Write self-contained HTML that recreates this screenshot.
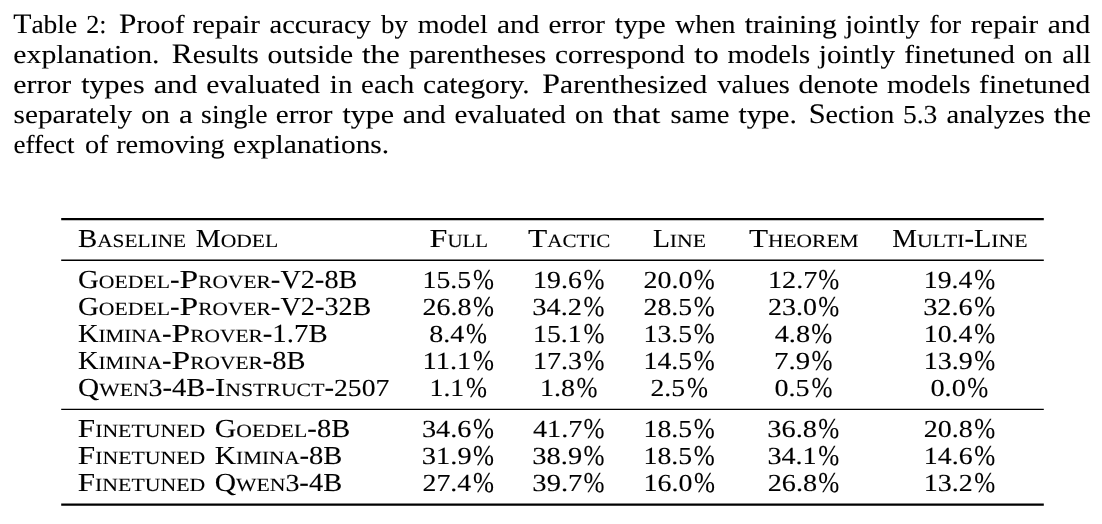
<!DOCTYPE html>
<html lang="en">
<head>
<meta charset="utf-8">
<title>Table 2: Proof repair accuracy</title>
<style>
html,body{margin:0;padding:0;background:#fff;}
body{width:1102px;height:524px;overflow:hidden;}
svg{display:block;will-change:transform;filter:grayscale(1);font-family:"Liberation Serif","DejaVu Serif",serif;text-rendering:geometricPrecision;}
text{fill:#000;stroke:#000;stroke-width:0;white-space:pre;}
text.c{font-size:26.0px;stroke-width:0.1;}
tspan.C{font-size:28.2px;}
tspan.b{font-size:26.0px;stroke-width:0.1;}
tspan.d{font-size:24.5px;stroke-width:0.1;}
tspan.s{font-size:18.7px;stroke-width:0.1;text-transform:uppercase;}
tspan.p{font-size:28.75px;stroke-width:0.1;}
</style>
</head>
<body>
<svg width="1102" height="524" viewBox="0 0 1102 524">
<rect x="0" y="0" width="1102" height="524" fill="#fff"/>
<rect x="61.2" y="218" width="982.6" height="2.25" fill="#000"/>
<rect x="61.2" y="259.5" width="982.6" height="1.5" fill="#000"/>
<rect x="61.2" y="408.75" width="982.6" height="1.25" fill="#000"/>
<rect x="61.2" y="503.5" width="982.6" height="2.25" fill="#000"/>
<text class="c" y="33"><tspan x="13.21" textLength="63.99" lengthAdjust="spacingAndGlyphs"><tspan class="C">T</tspan>able</tspan> <tspan x="86.36" textLength="20.25" lengthAdjust="spacingAndGlyphs">2:</tspan> <tspan x="119.1" textLength="65.4" lengthAdjust="spacingAndGlyphs"><tspan class="C">P</tspan>roof</tspan> <tspan x="192.42" textLength="67.59" lengthAdjust="spacingAndGlyphs">repair</tspan> <tspan x="269.5" textLength="101.36" lengthAdjust="spacingAndGlyphs">accuracy</tspan> <tspan x="381" textLength="26.85" lengthAdjust="spacingAndGlyphs">by</tspan> <tspan x="417.66" textLength="70.15" lengthAdjust="spacingAndGlyphs">model</tspan> <tspan x="496.97" textLength="42.39" lengthAdjust="spacingAndGlyphs">and</tspan> <tspan x="548.62" textLength="56.39" lengthAdjust="spacingAndGlyphs">error</tspan> <tspan x="614.71" textLength="51.07" lengthAdjust="spacingAndGlyphs">type</tspan> <tspan x="675.22" textLength="60.2" lengthAdjust="spacingAndGlyphs">when</tspan> <tspan x="744.71" textLength="92.1" lengthAdjust="spacingAndGlyphs">training</tspan> <tspan x="845.32" textLength="74.54" lengthAdjust="spacingAndGlyphs">jointly</tspan> <tspan x="929.42" textLength="31.57" lengthAdjust="spacingAndGlyphs">for</tspan> <tspan x="970.67" textLength="67.59" lengthAdjust="spacingAndGlyphs">repair</tspan> <tspan x="1047.71" textLength="42.65" lengthAdjust="spacingAndGlyphs">and</tspan></text>
<text class="c" y="63"><tspan x="13.34" textLength="146.12" lengthAdjust="spacingAndGlyphs">explanation.</tspan> <tspan x="171.84" textLength="86.95" lengthAdjust="spacingAndGlyphs"><tspan class="C">R</tspan>esults</tspan> <tspan x="267.62" textLength="85.4" lengthAdjust="spacingAndGlyphs">outside</tspan> <tspan x="361.95" textLength="37.88" lengthAdjust="spacingAndGlyphs">the</tspan> <tspan x="409.03" textLength="137.29" lengthAdjust="spacingAndGlyphs">parentheses</tspan> <tspan x="555.14" textLength="129.72" lengthAdjust="spacingAndGlyphs">correspond</tspan> <tspan x="694.19" textLength="24.51" lengthAdjust="spacingAndGlyphs">to</tspan> <tspan x="727.4" textLength="82.63" lengthAdjust="spacingAndGlyphs">models</tspan> <tspan x="818.84" textLength="76.27" lengthAdjust="spacingAndGlyphs">jointly</tspan> <tspan x="904.35" textLength="110.51" lengthAdjust="spacingAndGlyphs">finetuned</tspan> <tspan x="1023.9" textLength="28.78" lengthAdjust="spacingAndGlyphs">on</tspan> <tspan x="1062.25" textLength="28.58" lengthAdjust="spacingAndGlyphs">all</tspan></text>
<text class="c" y="93"><tspan x="13.34" textLength="57.93" lengthAdjust="spacingAndGlyphs">error</tspan> <tspan x="81.21" textLength="63.38" lengthAdjust="spacingAndGlyphs">types</tspan> <tspan x="153.69" textLength="43.68" lengthAdjust="spacingAndGlyphs">and</tspan> <tspan x="206.34" textLength="113.77" lengthAdjust="spacingAndGlyphs">evaluated</tspan> <tspan x="329.89" textLength="22.55" lengthAdjust="spacingAndGlyphs">in</tspan> <tspan x="361.12" textLength="53.01" lengthAdjust="spacingAndGlyphs">each</tspan> <tspan x="423.13" textLength="106.55" lengthAdjust="spacingAndGlyphs">category.</tspan> <tspan x="542.33" textLength="165.03" lengthAdjust="spacingAndGlyphs"><tspan class="C">P</tspan>arenthesized</tspan> <tspan x="717.25" textLength="72.53" lengthAdjust="spacingAndGlyphs">values</tspan> <tspan x="798.42" textLength="79.87" lengthAdjust="spacingAndGlyphs">denote</tspan> <tspan x="887.14" textLength="83.4" lengthAdjust="spacingAndGlyphs">models</tspan> <tspan x="979.09" textLength="111.27" lengthAdjust="spacingAndGlyphs">finetuned</tspan></text>
<text class="c" y="123"><tspan x="13.55" textLength="118.56" lengthAdjust="spacingAndGlyphs">separately</tspan> <tspan x="141.15" textLength="28.78" lengthAdjust="spacingAndGlyphs">on</tspan> <tspan x="178.91" textLength="13.76" lengthAdjust="spacingAndGlyphs">a</tspan> <tspan x="201.11" textLength="66.35" lengthAdjust="spacingAndGlyphs">single</tspan> <tspan x="275.86" textLength="56.65" lengthAdjust="spacingAndGlyphs">error</tspan> <tspan x="342.46" textLength="51.58" lengthAdjust="spacingAndGlyphs">type</tspan> <tspan x="402.71" textLength="42.91" lengthAdjust="spacingAndGlyphs">and</tspan> <tspan x="454.62" textLength="111.24" lengthAdjust="spacingAndGlyphs">evaluated</tspan> <tspan x="574.91" textLength="28.52" lengthAdjust="spacingAndGlyphs">on</tspan> <tspan x="612.69" textLength="47.75" lengthAdjust="spacingAndGlyphs">that</tspan> <tspan x="670.57" textLength="58.92" lengthAdjust="spacingAndGlyphs">same</tspan> <tspan x="738.46" textLength="58.5" lengthAdjust="spacingAndGlyphs">type.</tspan> <tspan x="808.71" textLength="85.46" lengthAdjust="spacingAndGlyphs"><tspan class="C">S</tspan>ection</tspan> <tspan x="902.9" textLength="34.43" lengthAdjust="spacingAndGlyphs">5.3</tspan> <tspan x="946.5" textLength="98.29" lengthAdjust="spacingAndGlyphs">analyzes</tspan> <tspan x="1053.7" textLength="37.36" lengthAdjust="spacingAndGlyphs">the</tspan></text>
<text class="c" y="153"><tspan x="13.44" textLength="61.22" lengthAdjust="spacingAndGlyphs">effect</tspan> <tspan x="84.92" textLength="23.58" lengthAdjust="spacingAndGlyphs">of</tspan> <tspan x="116.18" textLength="108.61" lengthAdjust="spacingAndGlyphs">removing</tspan> <tspan x="233.1" textLength="156.09" lengthAdjust="spacingAndGlyphs">explanations.</tspan></text>
<text><tspan class="b" x="77.91" y="247" textLength="19.26" lengthAdjust="spacingAndGlyphs">B</tspan><tspan class="s" x="97.17" y="247" textLength="88.99" lengthAdjust="spacingAndGlyphs">aseline</tspan> <tspan class="b" x="195.73" y="247" textLength="24.93" lengthAdjust="spacingAndGlyphs">M</tspan><tspan class="s" x="220.65" y="247" textLength="57.64" lengthAdjust="spacingAndGlyphs">odel</tspan></text>
<text><tspan class="b" x="429.57" y="247" textLength="17.86" lengthAdjust="spacingAndGlyphs">F</tspan><tspan class="s" x="447.43" y="247" textLength="40.57" lengthAdjust="spacingAndGlyphs">ull</tspan></text>
<text><tspan class="b" x="527.91" y="247" textLength="19.25" lengthAdjust="spacingAndGlyphs">T</tspan><tspan class="s" x="547.17" y="247" textLength="63.25" lengthAdjust="spacingAndGlyphs">actic</tspan></text>
<text><tspan class="b" x="652.94" y="247" textLength="16.92" lengthAdjust="spacingAndGlyphs">L</tspan><tspan class="s" x="669.86" y="247" textLength="36.22" lengthAdjust="spacingAndGlyphs">ine</tspan></text>
<text><tspan class="b" x="748.91" y="247" textLength="19.07" lengthAdjust="spacingAndGlyphs">T</tspan><tspan class="s" x="767.98" y="247" textLength="90.65" lengthAdjust="spacingAndGlyphs">heorem</tspan></text>
<text><tspan class="b" x="892.19" y="247" textLength="24.73" lengthAdjust="spacingAndGlyphs">M</tspan><tspan class="s" x="916.92" y="247" textLength="47.52" lengthAdjust="spacingAndGlyphs">ulti</tspan><tspan class="b" x="964.44" y="247" textLength="9.56" lengthAdjust="spacingAndGlyphs">-</tspan><tspan class="b" x="974" y="247" textLength="17.24" lengthAdjust="spacingAndGlyphs">L</tspan><tspan class="s" x="991.24" y="247" textLength="36.34" lengthAdjust="spacingAndGlyphs">ine</tspan></text>
<text><tspan class="b" x="78.03" y="288" textLength="20.84" lengthAdjust="spacingAndGlyphs">G</tspan><tspan class="s" x="98.87" y="288" textLength="71.09" lengthAdjust="spacingAndGlyphs">oedel</tspan><tspan class="b" x="169.96" y="288" textLength="9.56" lengthAdjust="spacingAndGlyphs">-</tspan><tspan class="b" x="179.52" y="288" textLength="18.71" lengthAdjust="spacingAndGlyphs">P</tspan><tspan class="s" x="198.23" y="288" textLength="72.63" lengthAdjust="spacingAndGlyphs">rover</tspan><tspan class="b" x="270.85" y="288" textLength="9.56" lengthAdjust="spacingAndGlyphs">-</tspan><tspan class="b" x="280.41" y="288" textLength="34.48" lengthAdjust="spacingAndGlyphs">V2</tspan><tspan class="b" x="314.89" y="288" textLength="9.56" lengthAdjust="spacingAndGlyphs">-</tspan><tspan class="b" x="324.45" y="288" textLength="32.95" lengthAdjust="spacingAndGlyphs">8B</tspan></text>
<text><tspan class="d" x="422.56" y="288" textLength="48.52" lengthAdjust="spacingAndGlyphs">15.5</tspan><tspan class="p" x="472.89" y="289" textLength="20.97" lengthAdjust="spacingAndGlyphs">%</tspan></text>
<text><tspan class="d" x="533.05" y="288" textLength="48.78" lengthAdjust="spacingAndGlyphs">19.6</tspan><tspan class="p" x="583.39" y="289" textLength="20.97" lengthAdjust="spacingAndGlyphs">%</tspan></text>
<text><tspan class="d" x="643.52" y="288" textLength="49.05" lengthAdjust="spacingAndGlyphs">20.0</tspan><tspan class="p" x="693.64" y="289" textLength="20.97" lengthAdjust="spacingAndGlyphs">%</tspan></text>
<text><tspan class="d" x="768.02" y="288" textLength="49.29" lengthAdjust="spacingAndGlyphs">12.7</tspan><tspan class="p" x="818.14" y="289" textLength="20.97" lengthAdjust="spacingAndGlyphs">%</tspan></text>
<text><tspan class="d" x="923.81" y="288" textLength="48.63" lengthAdjust="spacingAndGlyphs">19.4</tspan><tspan class="p" x="974.14" y="289" textLength="20.97" lengthAdjust="spacingAndGlyphs">%</tspan></text>
<text><tspan class="b" x="78.03" y="315" textLength="20.85" lengthAdjust="spacingAndGlyphs">G</tspan><tspan class="s" x="98.89" y="315" textLength="71.09" lengthAdjust="spacingAndGlyphs">oedel</tspan><tspan class="b" x="169.98" y="315" textLength="9.56" lengthAdjust="spacingAndGlyphs">-</tspan><tspan class="b" x="179.54" y="315" textLength="18.71" lengthAdjust="spacingAndGlyphs">P</tspan><tspan class="s" x="198.25" y="315" textLength="72.63" lengthAdjust="spacingAndGlyphs">rover</tspan><tspan class="b" x="270.87" y="315" textLength="9.56" lengthAdjust="spacingAndGlyphs">-</tspan><tspan class="b" x="280.43" y="315" textLength="34.48" lengthAdjust="spacingAndGlyphs">V2</tspan><tspan class="b" x="314.91" y="315" textLength="9.56" lengthAdjust="spacingAndGlyphs">-</tspan><tspan class="b" x="324.47" y="315" textLength="46.92" lengthAdjust="spacingAndGlyphs">32B</tspan></text>
<text><tspan class="d" x="422.52" y="315" textLength="49.05" lengthAdjust="spacingAndGlyphs">26.8</tspan><tspan class="p" x="472.89" y="316" textLength="20.97" lengthAdjust="spacingAndGlyphs">%</tspan></text>
<text><tspan class="d" x="532.39" y="315" textLength="49.67" lengthAdjust="spacingAndGlyphs">34.2</tspan><tspan class="p" x="583.39" y="316" textLength="20.97" lengthAdjust="spacingAndGlyphs">%</tspan></text>
<text><tspan class="d" x="643.53" y="315" textLength="48.55" lengthAdjust="spacingAndGlyphs">28.5</tspan><tspan class="p" x="693.64" y="316" textLength="20.97" lengthAdjust="spacingAndGlyphs">%</tspan></text>
<text><tspan class="d" x="768.02" y="315" textLength="49.05" lengthAdjust="spacingAndGlyphs">23.0</tspan><tspan class="p" x="818.14" y="316" textLength="20.97" lengthAdjust="spacingAndGlyphs">%</tspan></text>
<text><tspan class="d" x="923.15" y="315" textLength="49.44" lengthAdjust="spacingAndGlyphs">32.6</tspan><tspan class="p" x="974.14" y="316" textLength="20.97" lengthAdjust="spacingAndGlyphs">%</tspan></text>
<text><tspan class="b" x="77.9" y="342" textLength="20.55" lengthAdjust="spacingAndGlyphs">K</tspan><tspan class="s" x="98.45" y="342" textLength="63.44" lengthAdjust="spacingAndGlyphs">imina</tspan><tspan class="b" x="161.9" y="342" textLength="9.56" lengthAdjust="spacingAndGlyphs">-</tspan><tspan class="b" x="171.46" y="342" textLength="18.71" lengthAdjust="spacingAndGlyphs">P</tspan><tspan class="s" x="190.17" y="342" textLength="72.63" lengthAdjust="spacingAndGlyphs">rover</tspan><tspan class="b" x="262.79" y="342" textLength="9.56" lengthAdjust="spacingAndGlyphs">-</tspan><tspan class="b" x="272.35" y="342" textLength="55.31" lengthAdjust="spacingAndGlyphs">1.7B</tspan></text>
<text><tspan class="d" x="429.18" y="342" textLength="35" lengthAdjust="spacingAndGlyphs">8.4</tspan><tspan class="p" x="465.89" y="343" textLength="20.97" lengthAdjust="spacingAndGlyphs">%</tspan></text>
<text><tspan class="d" x="533.06" y="342" textLength="48.61" lengthAdjust="spacingAndGlyphs">15.1</tspan><tspan class="p" x="583.39" y="343" textLength="20.97" lengthAdjust="spacingAndGlyphs">%</tspan></text>
<text><tspan class="d" x="643.56" y="342" textLength="48.52" lengthAdjust="spacingAndGlyphs">13.5</tspan><tspan class="p" x="693.64" y="343" textLength="20.97" lengthAdjust="spacingAndGlyphs">%</tspan></text>
<text><tspan class="d" x="774.7" y="342" textLength="35.38" lengthAdjust="spacingAndGlyphs">4.8</tspan><tspan class="p" x="811.14" y="343" textLength="20.97" lengthAdjust="spacingAndGlyphs">%</tspan></text>
<text><tspan class="d" x="923.81" y="342" textLength="48.63" lengthAdjust="spacingAndGlyphs">10.4</tspan><tspan class="p" x="974.14" y="343" textLength="20.97" lengthAdjust="spacingAndGlyphs">%</tspan></text>
<text><tspan class="b" x="77.9" y="369" textLength="20.58" lengthAdjust="spacingAndGlyphs">K</tspan><tspan class="s" x="98.48" y="369" textLength="63.44" lengthAdjust="spacingAndGlyphs">imina</tspan><tspan class="b" x="161.92" y="369" textLength="9.56" lengthAdjust="spacingAndGlyphs">-</tspan><tspan class="b" x="171.48" y="369" textLength="18.71" lengthAdjust="spacingAndGlyphs">P</tspan><tspan class="s" x="190.19" y="369" textLength="72.63" lengthAdjust="spacingAndGlyphs">rover</tspan><tspan class="b" x="262.82" y="369" textLength="9.56" lengthAdjust="spacingAndGlyphs">-</tspan><tspan class="b" x="272.37" y="369" textLength="33.27" lengthAdjust="spacingAndGlyphs">8B</tspan></text>
<text><tspan class="d" x="422.5" y="369" textLength="48.71" lengthAdjust="spacingAndGlyphs">11.1</tspan><tspan class="p" x="472.89" y="370" textLength="20.97" lengthAdjust="spacingAndGlyphs">%</tspan></text>
<text><tspan class="d" x="533.04" y="369" textLength="49.06" lengthAdjust="spacingAndGlyphs">17.3</tspan><tspan class="p" x="583.39" y="370" textLength="20.97" lengthAdjust="spacingAndGlyphs">%</tspan></text>
<text><tspan class="d" x="643.56" y="369" textLength="48.52" lengthAdjust="spacingAndGlyphs">14.5</tspan><tspan class="p" x="693.64" y="370" textLength="20.97" lengthAdjust="spacingAndGlyphs">%</tspan></text>
<text><tspan class="d" x="774.1" y="369" textLength="36.09" lengthAdjust="spacingAndGlyphs">7.9</tspan><tspan class="p" x="811.39" y="370" textLength="20.97" lengthAdjust="spacingAndGlyphs">%</tspan></text>
<text><tspan class="d" x="923.78" y="369" textLength="49.12" lengthAdjust="spacingAndGlyphs">13.9</tspan><tspan class="p" x="974.14" y="370" textLength="20.97" lengthAdjust="spacingAndGlyphs">%</tspan></text>
<text><tspan class="b" x="78.04" y="396" textLength="21.15" lengthAdjust="spacingAndGlyphs">Q</tspan><tspan class="s" x="99.19" y="396" textLength="49.36" lengthAdjust="spacingAndGlyphs">wen</tspan><tspan class="d" x="148.55" y="396" textLength="13.96" lengthAdjust="spacingAndGlyphs">3</tspan><tspan class="b" x="162.51" y="396" textLength="9.56" lengthAdjust="spacingAndGlyphs">-</tspan><tspan class="b" x="172.07" y="396" textLength="33.4" lengthAdjust="spacingAndGlyphs">4B</tspan><tspan class="b" x="205.47" y="396" textLength="9.56" lengthAdjust="spacingAndGlyphs">-</tspan><tspan class="b" x="215.03" y="396" textLength="10.25" lengthAdjust="spacingAndGlyphs">I</tspan><tspan class="s" x="225.28" y="396" textLength="99.18" lengthAdjust="spacingAndGlyphs">nstruct</tspan><tspan class="b" x="324.46" y="396" textLength="9.56" lengthAdjust="spacingAndGlyphs">-</tspan><tspan class="d" x="334.02" y="396" textLength="55.29" lengthAdjust="spacingAndGlyphs">2507</tspan></text>
<text><tspan class="d" x="429.57" y="396" textLength="34.59" lengthAdjust="spacingAndGlyphs">1.1</tspan><tspan class="p" x="465.89" y="397" textLength="20.97" lengthAdjust="spacingAndGlyphs">%</tspan></text>
<text><tspan class="d" x="540.04" y="396" textLength="35.03" lengthAdjust="spacingAndGlyphs">1.8</tspan><tspan class="p" x="576.39" y="397" textLength="20.97" lengthAdjust="spacingAndGlyphs">%</tspan></text>
<text><tspan class="d" x="650.54" y="396" textLength="34.54" lengthAdjust="spacingAndGlyphs">2.5</tspan><tspan class="p" x="686.89" y="397" textLength="20.97" lengthAdjust="spacingAndGlyphs">%</tspan></text>
<text><tspan class="d" x="774.43" y="396" textLength="35.17" lengthAdjust="spacingAndGlyphs">0.5</tspan><tspan class="p" x="811.39" y="397" textLength="20.97" lengthAdjust="spacingAndGlyphs">%</tspan></text>
<text><tspan class="d" x="930.42" y="396" textLength="35.41" lengthAdjust="spacingAndGlyphs">0.0</tspan><tspan class="p" x="967.14" y="397" textLength="20.97" lengthAdjust="spacingAndGlyphs">%</tspan></text>
<text><tspan class="b" x="77.82" y="437" textLength="17.33" lengthAdjust="spacingAndGlyphs">F</tspan><tspan class="s" x="95.15" y="437" textLength="110.09" lengthAdjust="spacingAndGlyphs">inetuned</tspan> <tspan class="b" x="214.8" y="437" textLength="21.47" lengthAdjust="spacingAndGlyphs">G</tspan><tspan class="s" x="236.27" y="437" textLength="71.09" lengthAdjust="spacingAndGlyphs">oedel</tspan><tspan class="b" x="307.36" y="437" textLength="9.56" lengthAdjust="spacingAndGlyphs">-</tspan><tspan class="b" x="316.92" y="437" textLength="33.23" lengthAdjust="spacingAndGlyphs">8B</tspan></text>
<text><tspan class="d" x="421.9" y="437" textLength="49.44" lengthAdjust="spacingAndGlyphs">34.6</tspan><tspan class="p" x="472.89" y="438" textLength="20.97" lengthAdjust="spacingAndGlyphs">%</tspan></text>
<text><tspan class="d" x="532.95" y="437" textLength="49.36" lengthAdjust="spacingAndGlyphs">41.7</tspan><tspan class="p" x="583.39" y="438" textLength="20.97" lengthAdjust="spacingAndGlyphs">%</tspan></text>
<text><tspan class="d" x="643.56" y="437" textLength="48.52" lengthAdjust="spacingAndGlyphs">18.5</tspan><tspan class="p" x="693.64" y="438" textLength="20.97" lengthAdjust="spacingAndGlyphs">%</tspan></text>
<text><tspan class="d" x="767.39" y="437" textLength="49.69" lengthAdjust="spacingAndGlyphs">36.8</tspan><tspan class="p" x="818.14" y="438" textLength="20.97" lengthAdjust="spacingAndGlyphs">%</tspan></text>
<text><tspan class="d" x="923.77" y="437" textLength="49.05" lengthAdjust="spacingAndGlyphs">20.8</tspan><tspan class="p" x="974.14" y="438" textLength="20.97" lengthAdjust="spacingAndGlyphs">%</tspan></text>
<text><tspan class="b" x="77.82" y="464" textLength="17.39" lengthAdjust="spacingAndGlyphs">F</tspan><tspan class="s" x="95.21" y="464" textLength="110.09" lengthAdjust="spacingAndGlyphs">inetuned</tspan> <tspan class="b" x="214.85" y="464" textLength="21.26" lengthAdjust="spacingAndGlyphs">K</tspan><tspan class="s" x="236.11" y="464" textLength="63.44" lengthAdjust="spacingAndGlyphs">imina</tspan><tspan class="b" x="299.55" y="464" textLength="9.56" lengthAdjust="spacingAndGlyphs">-</tspan><tspan class="b" x="309.11" y="464" textLength="33.29" lengthAdjust="spacingAndGlyphs">8B</tspan></text>
<text><tspan class="d" x="421.89" y="464" textLength="49.78" lengthAdjust="spacingAndGlyphs">31.9</tspan><tspan class="p" x="472.89" y="465" textLength="20.97" lengthAdjust="spacingAndGlyphs">%</tspan></text>
<text><tspan class="d" x="532.39" y="464" textLength="49.78" lengthAdjust="spacingAndGlyphs">38.9</tspan><tspan class="p" x="583.39" y="465" textLength="20.97" lengthAdjust="spacingAndGlyphs">%</tspan></text>
<text><tspan class="d" x="643.56" y="464" textLength="48.52" lengthAdjust="spacingAndGlyphs">18.5</tspan><tspan class="p" x="693.64" y="465" textLength="20.97" lengthAdjust="spacingAndGlyphs">%</tspan></text>
<text><tspan class="d" x="767.4" y="464" textLength="49.29" lengthAdjust="spacingAndGlyphs">34.1</tspan><tspan class="p" x="818.14" y="465" textLength="20.97" lengthAdjust="spacingAndGlyphs">%</tspan></text>
<text><tspan class="d" x="923.8" y="464" textLength="48.78" lengthAdjust="spacingAndGlyphs">14.6</tspan><tspan class="p" x="974.14" y="465" textLength="20.97" lengthAdjust="spacingAndGlyphs">%</tspan></text>
<text><tspan class="b" x="77.82" y="491" textLength="17.3" lengthAdjust="spacingAndGlyphs">F</tspan><tspan class="s" x="95.12" y="491" textLength="110.09" lengthAdjust="spacingAndGlyphs">inetuned</tspan> <tspan class="b" x="214.77" y="491" textLength="21.3" lengthAdjust="spacingAndGlyphs">Q</tspan><tspan class="s" x="236.07" y="491" textLength="49.36" lengthAdjust="spacingAndGlyphs">wen</tspan><tspan class="d" x="285.43" y="491" textLength="13.96" lengthAdjust="spacingAndGlyphs">3</tspan><tspan class="b" x="299.39" y="491" textLength="9.56" lengthAdjust="spacingAndGlyphs">-</tspan><tspan class="b" x="308.95" y="491" textLength="33.2" lengthAdjust="spacingAndGlyphs">4B</tspan></text>
<text><tspan class="d" x="422.53" y="491" textLength="48.66" lengthAdjust="spacingAndGlyphs">27.4</tspan><tspan class="p" x="472.89" y="492" textLength="20.97" lengthAdjust="spacingAndGlyphs">%</tspan></text>
<text><tspan class="d" x="532.38" y="491" textLength="49.94" lengthAdjust="spacingAndGlyphs">39.7</tspan><tspan class="p" x="583.39" y="492" textLength="20.97" lengthAdjust="spacingAndGlyphs">%</tspan></text>
<text><tspan class="d" x="643.54" y="491" textLength="49.03" lengthAdjust="spacingAndGlyphs">16.0</tspan><tspan class="p" x="693.89" y="492" textLength="20.97" lengthAdjust="spacingAndGlyphs">%</tspan></text>
<text><tspan class="d" x="767.76" y="491" textLength="49.31" lengthAdjust="spacingAndGlyphs">26.8</tspan><tspan class="p" x="818.14" y="492" textLength="20.97" lengthAdjust="spacingAndGlyphs">%</tspan></text>
<text><tspan class="d" x="923.79" y="491" textLength="49.01" lengthAdjust="spacingAndGlyphs">13.2</tspan><tspan class="p" x="974.14" y="492" textLength="20.97" lengthAdjust="spacingAndGlyphs">%</tspan></text>
</svg>
</body>
</html>
